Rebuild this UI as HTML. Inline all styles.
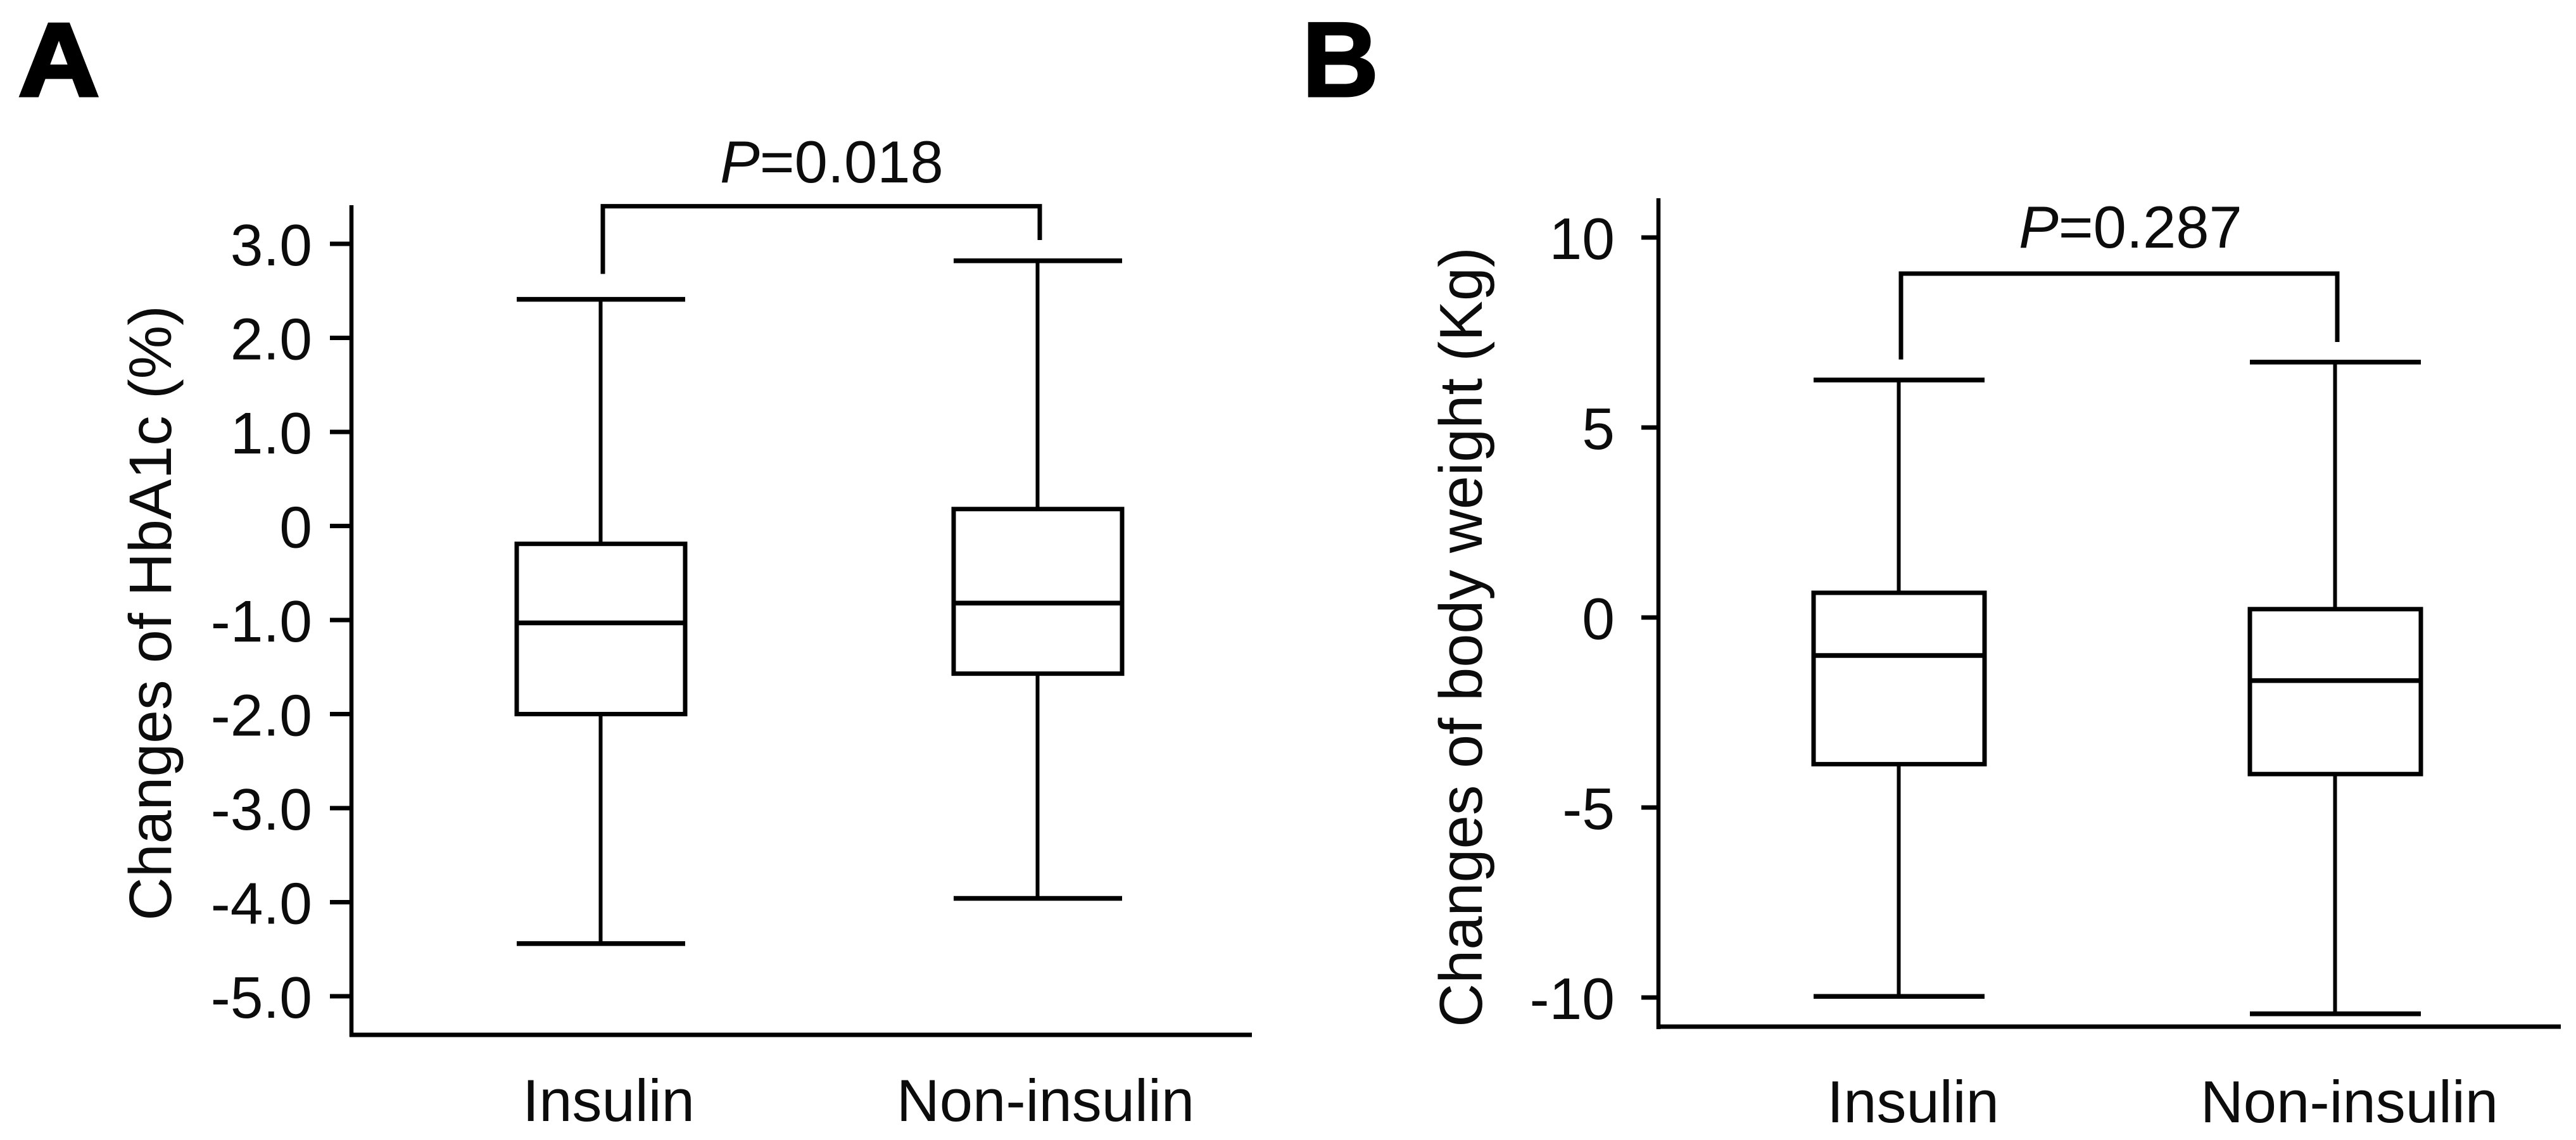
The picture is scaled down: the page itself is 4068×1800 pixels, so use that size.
<!DOCTYPE html>
<html lang="en">
<head>
<meta charset="utf-8">
<title>Changes of HbA1c and body weight</title>
<style>
  html, body { margin: 0; padding: 0; background: #fff; }
  svg { display: block; }
  text { font-family: "Liberation Sans", Arial, sans-serif; fill: #0c0c0c; }
</style>
</head>
<body>
<svg id="figure" xmlns="http://www.w3.org/2000/svg" width="4068" height="1800" viewBox="0 0 4068 1800">
  <rect x="0" y="0" width="4068" height="1800" fill="#fff"/>

  <text transform="translate(29 151) scale(1.08 1)" font-size="164" font-weight="700" style="fill:#000;stroke:#000;stroke-width:5">A</text>
  <text x="2056" y="152" font-size="168" font-weight="700" style="fill:#000;stroke:#000;stroke-width:3">B</text>

  <g id="panel-a">
    <text transform="translate(270 968) rotate(-90)" text-anchor="middle" font-size="95">Changes of HbA1c (%)</text>
    <line x1="555" y1="324" x2="555" y2="1637" stroke="#000" stroke-width="6.5"/>
    <line x1="552" y1="1634" x2="1977" y2="1634" stroke="#000" stroke-width="7"/>
    <text x="1137" y="288" font-size="94"><tspan font-style="italic">P</tspan>=0.018</text>
  </g>

  <g id="panel-b">
    <text transform="translate(2340 1006) rotate(-90)" text-anchor="middle" font-size="95.5">Changes of body weight (Kg)</text>
    <line x1="2619" y1="313" x2="2619" y2="1625" stroke="#000" stroke-width="6.5"/>
    <line x1="2616" y1="1621" x2="4044" y2="1621" stroke="#000" stroke-width="7"/>
    <text x="3188" y="391" font-size="94"><tspan font-style="italic">P</tspan>=0.287</text>
  </g>
</svg>

<script>
const panelACategories = ['Insulin', 'Non-insulin'];
const panelAUpperWhisker = [2.41, 2.82];
const panelAUpperQuartile = [-0.19, 0.18];
const panelAMedian = [-1.03, -0.82];
const panelALowerQuartile = [-2.0, -1.57];
const panelALowerWhisker = [-4.44, -3.96];
const panelATicks = [3, 2, 1, 0, -1, -2, -3, -4, -5];
const panelATickLabels = ['3.0', '2.0', '1.0', '0', '-1.0', '-2.0', '-3.0', '-4.0', '-5.0'];
const panelABracket = [3.40, 2.68, 3.04];

const panelBCategories = ['Insulin', 'Non-insulin'];
const panelBUpperWhisker = [6.25, 6.72];
const panelBUpperQuartile = [0.65, 0.22];
const panelBMedian = [-1.0, -1.66];
const panelBLowerQuartile = [-3.86, -4.12];
const panelBLowerWhisker = [-9.97, -10.43];
const panelBTicks = [10, 5, 0, -5, -10];
const panelBTickLabels = ['10', '5', '0', '-5', '-10'];
const panelBBracket = [9.05, 6.79, 7.25];

const SVG_NS = 'http://www.w3.org/2000/svg';

function makeLine(parent, x1, y1, x2, y2, width) {
  const el = document.createElementNS(SVG_NS, 'line');
  el.setAttribute('x1', x1);
  el.setAttribute('y1', y1);
  el.setAttribute('x2', x2);
  el.setAttribute('y2', y2);
  el.setAttribute('stroke', '#000');
  el.setAttribute('stroke-width', width);
  parent.appendChild(el);
  return el;
}

function makeText(parent, x, y, size, anchor, content) {
  const el = document.createElementNS(SVG_NS, 'text');
  el.setAttribute('x', x);
  el.setAttribute('y', y);
  el.setAttribute('font-size', size);
  el.setAttribute('text-anchor', anchor);
  el.textContent = content;
  parent.appendChild(el);
  return el;
}

function drawPanel(cfg) {
  const root = document.getElementById(cfg.id);
  const yScale = function (v) { return cfg.yZero - cfg.yUnit * v; };
  const xScale = function (i) { return cfg.xFirst + cfg.xStep * i; };

  cfg.ticks.forEach(function (t, i) {
    const tick = makeLine(root, cfg.tickLeft, yScale(t), cfg.axisX, yScale(t), 7);
    
    
    const label = makeText(root, cfg.tickLabelRight, yScale(t) + 34, 93, 'end', cfg.tickLabels[i]);
    
    
  });

  cfg.categories.forEach(function (name, i) {
    const cx = xScale(i);
    const hw = cfg.boxHalfWidth;
    const g = document.createElementNS(SVG_NS, 'g');
    
    
    root.appendChild(g);

    const upperStem = makeLine(g, cx - 0.5, yScale(cfg.upper[i]), cx - 0.5, yScale(cfg.q3[i]), 6);
    
    
    const lowerStem = makeLine(g, cx - 0.5, yScale(cfg.q1[i]), cx - 0.5, yScale(cfg.lower[i]), 6);
    
    
    const upperCap = makeLine(g, cx - hw, yScale(cfg.upper[i]), cx + hw, yScale(cfg.upper[i]), 7.5);
    
    
    const lowerCap = makeLine(g, cx - hw, yScale(cfg.lower[i]), cx + hw, yScale(cfg.lower[i]), 7.5);
    
    

    const box = document.createElementNS(SVG_NS, 'rect');
    box.setAttribute('x', cx - hw);
    box.setAttribute('y', yScale(cfg.q3[i]));
    box.setAttribute('width', hw * 2);
    box.setAttribute('height', yScale(cfg.q1[i]) - yScale(cfg.q3[i]));
    box.setAttribute('fill', '#fff');
    box.setAttribute('stroke', '#000');
    box.setAttribute('stroke-width', 7);
    
    
    g.appendChild(box);

    const med = makeLine(g, cx - hw, yScale(cfg.median[i]), cx + hw, yScale(cfg.median[i]), 7.5);
    
    

    const cat = makeText(root, cx + cfg.labelShift, cfg.labelBaseline, 94, 'middle', name);
    
    
  });

  const b = cfg.bracket;
  const bx0 = xScale(0) + 3;
  const bx1 = xScale(1) + 3;
  const path = document.createElementNS(SVG_NS, 'path');
  path.setAttribute('d', 'M' + bx0 + ' ' + yScale(b[1]) + ' V' + yScale(b[0]) + ' H' + bx1 + ' V' + yScale(b[2]));
  path.setAttribute('fill', 'none');
  path.setAttribute('stroke', '#000');
  path.setAttribute('stroke-width', 7);
  
  
  root.appendChild(path);
}

drawPanel({
  id: 'panel-a', categories: panelACategories,
  upper: panelAUpperWhisker, q3: panelAUpperQuartile, median: panelAMedian,
  q1: panelALowerQuartile, lower: panelALowerWhisker,
  ticks: panelATicks, tickLabels: panelATickLabels, bracket: panelABracket,
  yZero: 830.5, yUnit: 148.5, xFirst: 949, xStep: 690, boxHalfWidth: 133,
  axisX: 555, tickLeft: 521, tickLabelRight: 493, labelShift: 12, labelBaseline: 1770
});

drawPanel({
  id: 'panel-b', categories: panelBCategories,
  upper: panelBUpperWhisker, q3: panelBUpperQuartile, median: panelBMedian,
  q1: panelBLowerQuartile, lower: panelBLowerWhisker,
  ticks: panelBTicks, tickLabels: panelBTickLabels, bracket: panelBBracket,
  yZero: 975, yUnit: 60, xFirst: 2999, xStep: 689, boxHalfWidth: 135,
  axisX: 2619, tickLeft: 2592, tickLabelRight: 2550, labelShift: 22, labelBaseline: 1772
});
</script>
</body>
</html>
